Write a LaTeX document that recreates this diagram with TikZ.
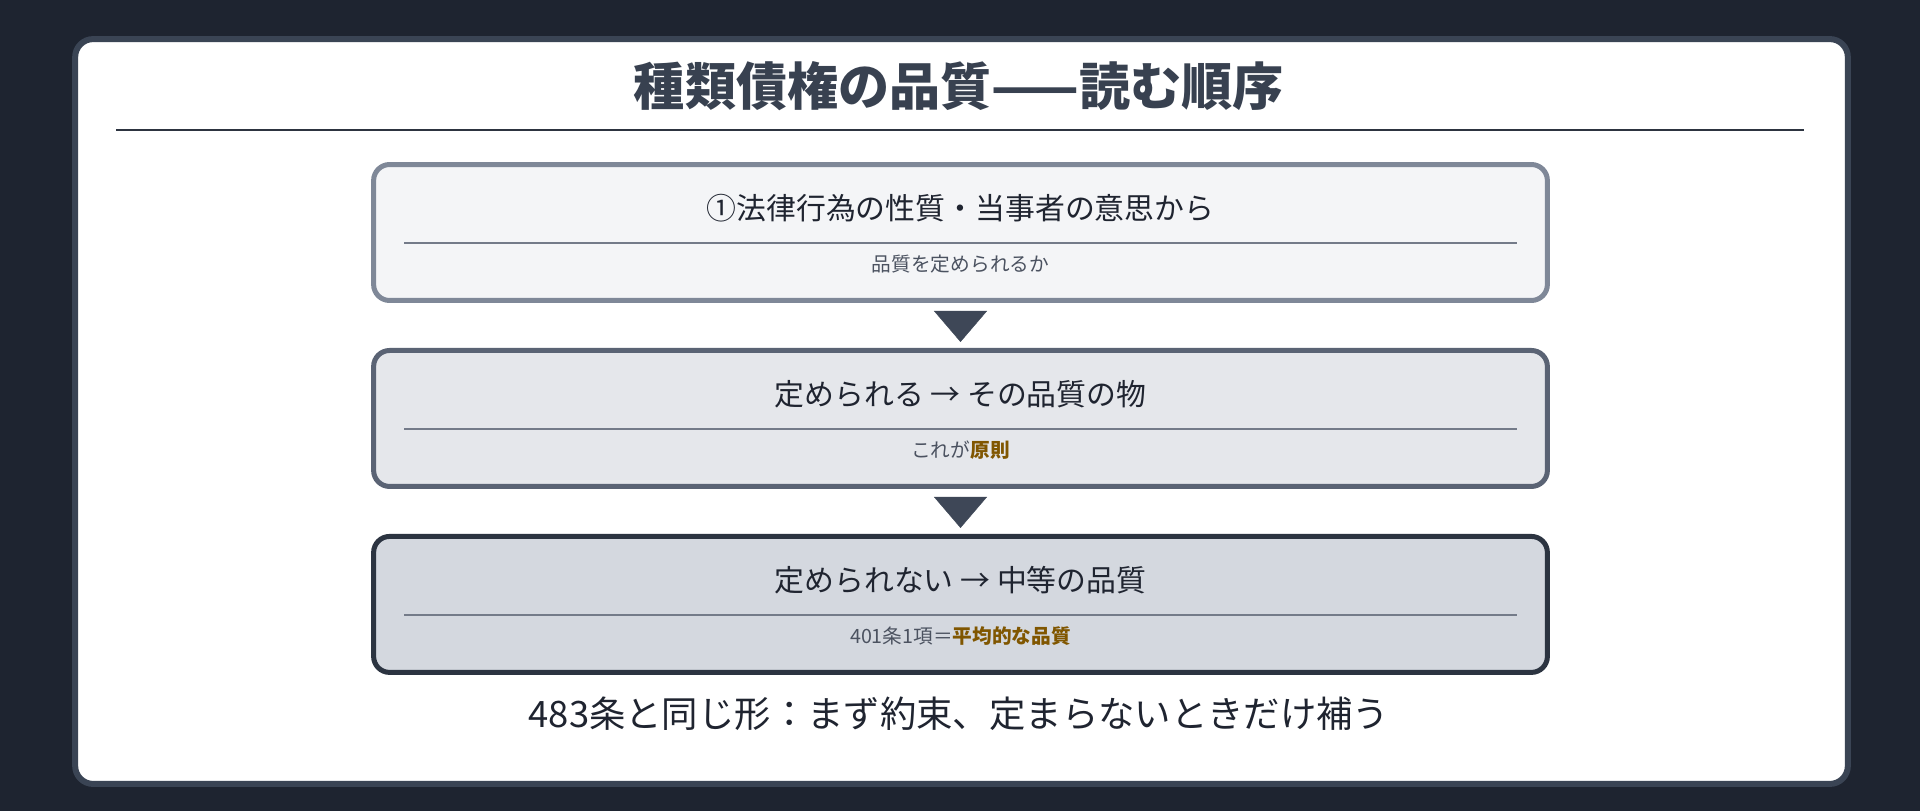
\documentclass[tikz,border=0pt]{standalone}
\usepackage{fontspec}
\setmainfont{Noto Sans CJK JP}
\usetikzlibrary{positioning,calc,arrows.meta}

\definecolor{pagebg}{HTML}{1E2430}
\definecolor{cardedge}{HTML}{3A4454}
\definecolor{titlecol}{HTML}{384150}
\definecolor{titlerule}{HTML}{2D3440}
\definecolor{maintext}{HTML}{1F2430}
\definecolor{subtext}{HTML}{4B5260}
\definecolor{rulegray}{HTML}{747B89}
\definecolor{accent}{HTML}{805600}
\definecolor{tricol}{HTML}{3E4757}
\definecolor{edgeA}{HTML}{7F8898}
\definecolor{fillA}{HTML}{F4F5F7}
\definecolor{edgeB}{HTML}{5A6374}
\definecolor{fillB}{HTML}{E5E7EB}
\definecolor{edgeC}{HTML}{2C3441}
\definecolor{fillC}{HTML}{D4D8DF}

\begin{document}
\begin{tikzpicture} [x=0.02cm, y=-0.02cm, node distance=0.9cm, card/.style={rectangle, draw=cardedge, fill=white, line width=0.12cm, rounded corners=0.36cm, minimum width=35.46cm, minimum height=14.9cm}, block/.style={rectangle, rounded corners=0.32cm, line width=0.1cm, minimum width=23.48cm, minimum height=2.72cm}, headline/.style={font=\fontsize{17pt}{20pt}\selectfont, text=maintext, inner sep=0pt}, note/.style={font=\fontsize{11.2pt}{13pt}\selectfont, text=subtext, inner sep=0pt}, midrule/.style={draw=rulegray, line width=0.04cm}, flow/.style={draw=tricol, line width=0.2pt, -{Triangle[width=1.06cm, length=0.62cm]}, shorten <=0.16cm, shorten >=0.12cm}]

	\fill [pagebg] (0,0) rectangle (1920,811);
	\node [card] (card) at (961.5,411.5) {};

	% title
	\node [font=\fontsize{29.1pt}{35pt}\selectfont\bfseries, text=titlecol, inner sep=0pt] (title) at (959,86) {種類債権の品質——読む順序};
	\draw [titlerule, line width=0.06cm] (116,130) -- (1804,130);

	\node [block, draw=edgeA, fill=fillA] (step1) at (960.5,232.5) {};
	\node [block, draw=edgeB, fill=fillB, below=of step1] (step2) {};
	\node [block, draw=edgeC, fill=fillC, below=of step2] (step3) {};

	\node [headline] (head1) at ($(step1.north)+(0,46)$) {①法律行為の性質・当事者の意思から};
	\node [headline] (head2) at ($(step2.north)+(0,46)$) {定められる → その品質の物};
	\node [headline] (head3) at ($(step3.north)+(0,46)$) {定められない → 中等の品質};

	\foreach \s in {step1,step2,step3}
		\draw [midrule] ($(\s.north west)+(33,81)$) -- ($(\s.north east)+(-33,81)$);

	\node [note] (note1) at ($(step1.north)+(0,102)$) {品質を定められるか};
	\node [note] (note2) at ($(step2.north)+(0,102)$) {これが\textbf{\color{accent}原則}};
	\node [note] (note3) at ($(step3.north)+(0,102)$) {401条1項＝\textbf{\color{accent}平均的な品質}};

	% draw edges
	\draw [flow] (step1) -- (step2);
	\draw [flow] (step2) -- (step3);

	\node [font=\fontsize{20.7pt}{25pt}\selectfont, text=maintext, inner sep=0pt] (summary) at (959,714) {483条と同じ形：まず約束、定まらないときだけ補う};

\end{tikzpicture}
\end{document}
